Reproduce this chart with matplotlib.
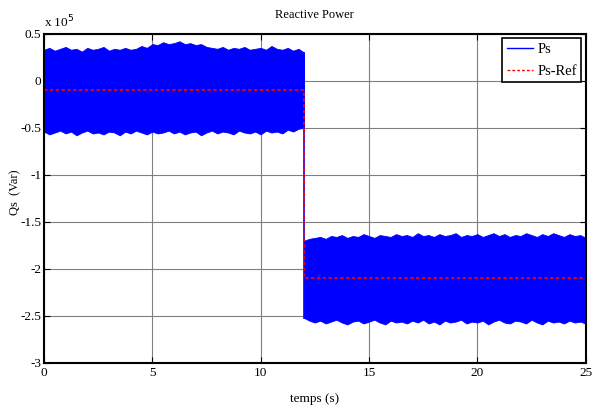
import numpy as np
import matplotlib
matplotlib.use("Agg")
import matplotlib.pyplot as plt
from matplotlib.lines import Line2D

plt.rcParams["font.family"] = ["Liberation Serif", "DejaVu Serif"]

# reactive power envelope (x 1e5 Var), sampled every 0.25 s
t1 = np.arange(0, 12.001, 0.25)
upper1 = [0.33, 0.35, 0.32, 0.34, 0.36, 0.33, 0.34, 0.31, 0.35, 0.33, 0.34, 0.36, 0.32,
          0.34, 0.33, 0.35, 0.33, 0.34, 0.37, 0.35, 0.39, 0.38, 0.41, 0.39, 0.40,
          0.42, 0.39, 0.40, 0.38, 0.39, 0.36, 0.35, 0.34, 0.36, 0.33, 0.35, 0.34,
          0.36, 0.33, 0.34, 0.35, 0.33, 0.37, 0.34, 0.33, 0.35, 0.32, 0.34, 0.30]
lower1 = [-0.54, -0.57, -0.55, -0.53, -0.56, -0.54, -0.58, -0.55, -0.53, -0.56, -0.55, -0.57, -0.54,
          -0.55, -0.58, -0.54, -0.56, -0.53, -0.55, -0.57, -0.54, -0.56, -0.55, -0.53, -0.56,
          -0.54, -0.57, -0.55, -0.54, -0.58, -0.55, -0.53, -0.56, -0.54, -0.55, -0.57, -0.53,
          -0.55, -0.56, -0.54, -0.57, -0.53, -0.55, -0.54, -0.56, -0.52, -0.54, -0.51, -0.50]

t2 = np.arange(12, 25.001, 0.25)
upper2 = [-1.70, -1.68, -1.67, -1.66, -1.68, -1.65, -1.66, -1.64, -1.67, -1.65, -1.66, -1.63, -1.65,
          -1.67, -1.64, -1.65, -1.66, -1.63, -1.65, -1.64, -1.66, -1.62, -1.65, -1.64, -1.66,
          -1.63, -1.65, -1.64, -1.62, -1.66, -1.64, -1.65, -1.63, -1.66, -1.64, -1.62, -1.65,
          -1.63, -1.66, -1.64, -1.65, -1.62, -1.64, -1.66, -1.63, -1.65, -1.62, -1.64, -1.66,
          -1.63, -1.65, -1.64, -1.67]
lower2 = [-2.52, -2.55, -2.57, -2.55, -2.58, -2.56, -2.54, -2.57, -2.59, -2.56, -2.55, -2.58, -2.56,
          -2.54, -2.57, -2.59, -2.55, -2.57, -2.56, -2.58, -2.55, -2.57, -2.54, -2.58, -2.56,
          -2.59, -2.55, -2.57, -2.56, -2.54, -2.58, -2.56, -2.57, -2.55, -2.59, -2.56, -2.54,
          -2.57, -2.58, -2.55, -2.56, -2.58, -2.54, -2.57, -2.59, -2.55, -2.57, -2.56, -2.58,
          -2.55, -2.57, -2.56, -2.58]

# reference
t_ref = [0, 12, 12, 25]
q_ref = [-0.1, -0.1, -2.1, -2.1]

fig = plt.figure(figsize=(5.94, 4.09), dpi=100)
ax = fig.add_axes([0.074, 0.1125, 0.912, 0.805])

ax.fill_between(t1, lower1, upper1, color="blue", lw=0.6)
ax.fill_between(t2, lower2, upper2, color="blue", lw=0.6)
ax.plot([t1[-1], t2[0]], [upper1[-1], lower2[0]], color="blue", lw=1.2)
ax.plot(t_ref, q_ref, color="red", lw=1.2, linestyle=(0, (2, 1.5)))

ax.set_xlim(0, 25)
ax.set_ylim(-3, 0.5)
ax.set_xticks([0, 5, 10, 15, 20, 25])
ax.set_yticks([-3, -2.5, -2, -1.5, -1, -0.5, 0, 0.5])
ax.set_yticklabels(["-3", "-2.5", "-2", "-1.5", "-1", "-0.5", "0", "0.5"])
ax.grid(True, color="#808080", lw=0.8)
ax.set_axisbelow(True)
ax.tick_params(direction="in", top=True, right=True, labelsize=9.5, length=4, width=0.8, pad=2)
ax.tick_params(axis="x", pad=3)
for s in ax.spines.values():
    s.set_linewidth(1.5)
    s.set_zorder(5)

ax.set_title("Reactive Power", fontsize=9, pad=11)
ax.set_xlabel("temps (s)", fontsize=9.5, labelpad=10)
ax.set_ylabel("Qs  (Var)", fontsize=9)
ax.yaxis.set_label_coords(-0.042, 0.52)
ax.text(0, 1.01, "x 10$^5$", transform=ax.transAxes, fontsize=9.5, ha="left", va="bottom")

handles = [Line2D([], [], color="blue", lw=1),
           Line2D([], [], color="red", lw=1, linestyle=(0, (2, 1.5)))]
leg = ax.legend(handles, ["Ps", "Ps-Ref"], loc="upper right", fontsize=10.5,
                fancybox=False, framealpha=1, edgecolor="black", borderaxespad=0.3,
                handlelength=1.8, handletextpad=0.3, borderpad=0.3, labelspacing=0.6)
leg.get_frame().set_linewidth(1.2)

fig.savefig("out.png", dpi=100)
